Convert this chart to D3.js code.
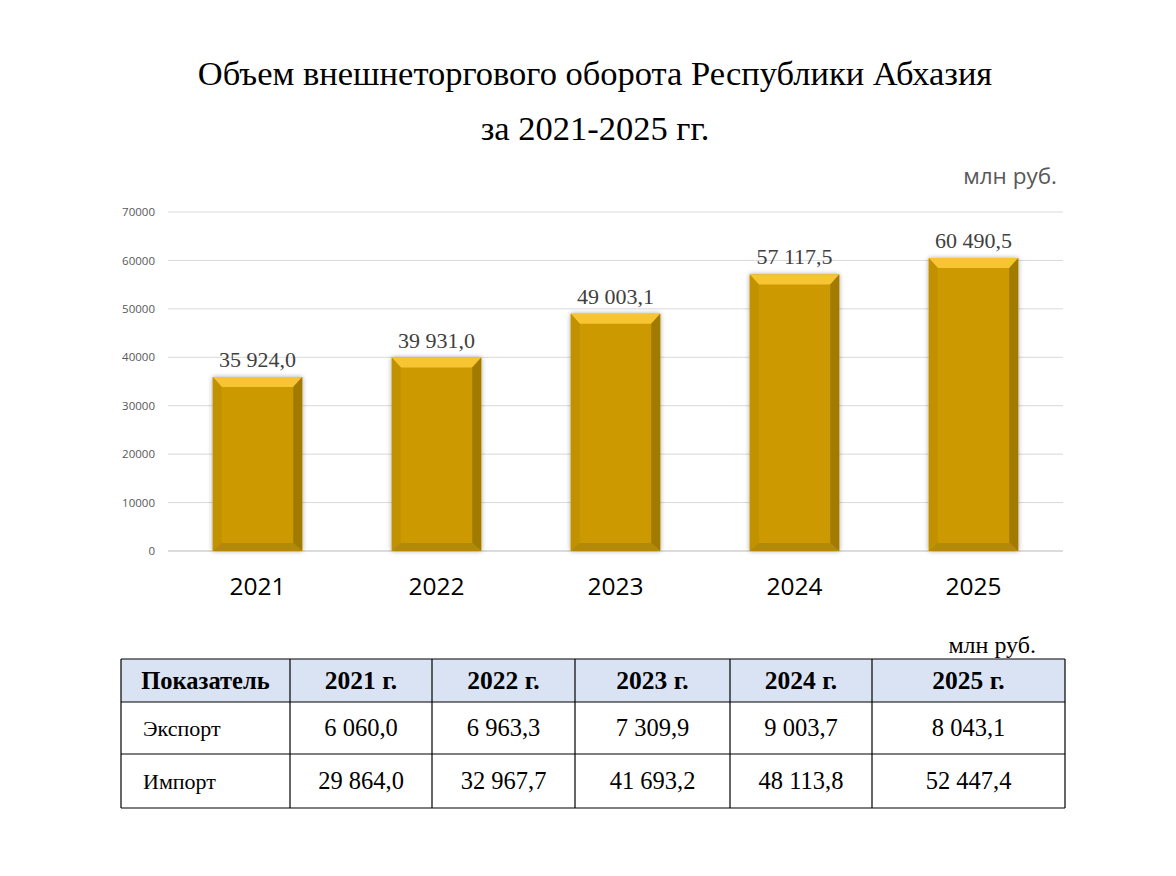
<!DOCTYPE html>
<html><head><meta charset="utf-8">
<script src="https://cdn.jsdelivr.net/npm/d3@7"></script>
<style>
html,body{margin:0;padding:0;background:#fff;}
svg{display:block;}
</style></head>
<body>
<svg id="c" width="1176" height="876"></svg>
<script>
const years = ["2021","2022","2023","2024","2025"];
const totals = [35924.0, 39931.0, 49003.1, 57117.5, 60490.5];
const yTicks = [0,10000,20000,30000,40000,50000,60000,70000];
const tableHeader = ["Показатель","2021 г.","2022 г.","2023 г.","2024 г.","2025 г."];
const exportVals = ["6 060,0","6 963,3","7 309,9","9 003,7","8 043,1"];
const importVals = ["29 864,0","32 967,7","41 693,2","48 113,8","52 447,4"];
const rowLabels = ["Экспорт","Импорт"];

const svg = d3.select("#c");
const serif = "'Liberation Serif','Times New Roman',serif";
const sans = "'Open Sans','Liberation Sans',sans-serif";

// Title
svg.append("text").attr("x",595).attr("y",85).attr("text-anchor","middle")
  .style("font-family",serif).style("font-size","34.5px").attr("fill","#000")
  .text("Объем внешнеторгового оборота Республики Абхазия");
svg.append("text").attr("x",595).attr("y",140).attr("text-anchor","middle")
  .style("font-family",serif).style("font-size","34.5px").attr("fill","#000")
  .text("за 2021-2025 гг.");
svg.append("text").attr("x",1057).attr("y",184).attr("text-anchor","end")
  .style("font-family",sans).style("font-size","22.5px").attr("fill","#595959")
  .text("млн руб.");

const x = d3.scaleBand().domain(years).range([168,1063]).paddingInner(0.5).paddingOuter(0.25);
const y = d3.scaleLinear().domain([0,70000]).range([551,212]);

// grid
const grid = svg.append("g");
grid.selectAll("line").data(yTicks).join("line")
  .attr("x1",168).attr("x2",1063)
  .attr("y1",d=>y(d)).attr("y2",d=>y(d))
  .attr("stroke",d=>d===0?"#d0d0d0":"#d9d9d9").attr("stroke-width",d=>d===0?1.5:1);

const yAxis = svg.append("g").attr("transform","translate(155,0)")
  .call(d3.axisLeft(y).tickValues(yTicks).tickSize(0).tickPadding(0).tickFormat(d3.format("d")));
yAxis.select(".domain").remove();
yAxis.selectAll("text").style("font-family",sans).style("font-size","11.5px").attr("fill","#595959");

const xAxis = svg.append("g").attr("transform","translate(0,551)")
  .call(d3.axisBottom(x).tickSize(0).tickPadding(27));
xAxis.select(".domain").remove();
xAxis.selectAll("text").style("font-family",sans).style("font-size","24.5px").attr("fill","#000");

// shadow filter
const defs = svg.append("defs");
const f = defs.append("filter").attr("id","sh").attr("x","-20%").attr("y","-20%").attr("width","140%").attr("height","140%");
f.append("feGaussianBlur").attr("in","SourceAlpha").attr("stdDeviation",2.5);
f.append("feOffset").attr("dx",0).attr("dy",0).attr("result","b");
f.append("feComponentTransfer").append("feFuncA").attr("type","linear").attr("slope",0.35);
const m = f.append("feMerge"); m.append("feMergeNode"); m.append("feMergeNode").attr("in","SourceGraphic");

const bars = svg.append("g").selectAll("g").data(years.map((d,i)=>({year:d,v:totals[i]}))).join("g")
  .attr("filter","url(#sh)");
const bt=10, bs=9, bb=8;
bars.each(function(d){
  const g = d3.select(this);
  const x0 = x(d.year), x1 = x0 + x.bandwidth();
  const y0 = y(d.v), y1 = y(0);
  g.append("rect").attr("x",x0).attr("y",y0).attr("width",x1-x0).attr("height",y1-y0).attr("fill","#cc9a06");
  g.append("path").attr("d",`M${x0},${y0}L${x1},${y0}L${x1-bs},${y0+bt}L${x0+bs},${y0+bt}Z`).attr("fill","#f7c433");
  g.append("path").attr("d",`M${x0},${y0}L${x0+bs},${y0+bt}L${x0+bs},${y1-bb}L${x0},${y1}Z`).attr("fill","#c29100");
  g.append("path").attr("d",`M${x1},${y0}L${x1},${y1}L${x1-bs},${y1-bb}L${x1-bs},${y0+bt}Z`).attr("fill","#a17a00");
  g.append("path").attr("d",`M${x0},${y1}L${x0+bs},${y1-bb}L${x1-bs},${y1-bb}L${x1},${y1}Z`).attr("fill","#b3880f");
});

// value labels
const fmt = v => d3.format(",.1f")(v).replace(/,/g," ").replace(".",",");
svg.append("g").selectAll("text").data(totals).join("text")
  .attr("x",(d,i)=>x(years[i])+x.bandwidth()/2).attr("y",d=>y(d)-10)
  .attr("text-anchor","middle").style("font-family",serif).style("font-size","22px").attr("fill","#404040")
  .text(d=>fmt(d));

// Table
svg.append("text").attr("x",1036).attr("y",653).attr("text-anchor","end")
  .style("font-family",serif).style("font-size","24px").attr("fill","#000").text("млн руб.");
const colX = [121,290,432,575,730,872,1065];
const rowY = [659,702,754,808];
const tbl = svg.append("g");
tbl.append("rect").attr("x",colX[0]).attr("y",rowY[0]).attr("width",colX[6]-colX[0]).attr("height",rowY[1]-rowY[0]).attr("fill","#dae3f3");
const rows = [tableHeader, [rowLabels[0],...exportVals], [rowLabels[1],...importVals]];
rows.forEach((r,ri)=>{
  r.forEach((t,ci)=>{
    const cx = ci===0 && ri>0 ? colX[0]+22 : (colX[ci]+colX[ci+1])/2;
    tbl.append("text").attr("x",cx).attr("y",(rowY[ri]+rowY[ri+1])/2+8)
      .attr("text-anchor", ci===0 && ri>0 ? "start":"middle")
      .style("font-family",serif).style("font-size", ri===0?(ci===0?"24.5px":"25.5px"):(ci===0?"22px":"24.5px"))
      .style("font-weight", ri===0?"bold":"normal").attr("fill","#000").text(t);
  });
});
tbl.selectAll("line.h").data(rowY).join("line").attr("class","h")
  .attr("x1",colX[0]).attr("x2",colX[6]).attr("y1",d=>d).attr("y2",d=>d).attr("stroke","#000").attr("stroke-width",1.2);
tbl.selectAll("line.v").data(colX).join("line").attr("class","v")
  .attr("y1",rowY[0]).attr("y2",rowY[3]).attr("x1",d=>d).attr("x2",d=>d).attr("stroke","#000").attr("stroke-width",1.2);
</script>
</body></html>
